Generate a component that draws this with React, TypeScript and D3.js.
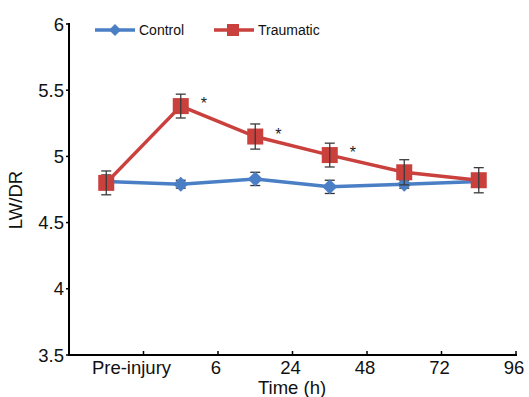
import React from "react";
import * as d3 from "d3";

const xTickLabels = ["Pre-injury", "6", "24", "48", "72", "96"];
const yTicks = [3.5, 4, 4.5, 5, 5.5, 6];
const controlMean = [4.81, 4.79, 4.83, 4.77, 4.79, 4.81];
const controlErr = [0.05, 0.03, 0.05, 0.05, 0.03, 0.04];
const traumaMean = [4.8, 5.38, 5.15, 5.01, 4.88, 4.82];
const traumaErr = [0.09, 0.09, 0.095, 0.09, 0.095, 0.095];
const significant = [false, true, true, true, false, false];

const W = 529, H = 397;
const left = 69, right = 516, top = 24, bottom = 355;
const BLUE = "#4a7fc6";
const RED = "#c9403d";
const FONT = "Liberation Sans, Arial, sans-serif";

export default function App() {
  const x = d3.scaleLinear().domain([0, 6]).range([left, right]);
  const y = d3.scaleLinear().domain([3.5, 6]).range([bottom, top]);
  const pts = controlMean.map((_, i) => i + 0.5);
  const line = d3.line<number>().x((_, i) => x(pts[i])).y((d) => y(d));

  const errBars = (means: number[], errs: number[], key: string, color: string) =>
    means.map((m, i) => {
      const cx = x(pts[i]);
      return (
        <g key={key + i} stroke={color} strokeWidth={1.3}>
          <line x1={cx} x2={cx} y1={y(m + errs[i])} y2={y(m - errs[i])} />
          <line x1={cx - 5} x2={cx + 5} y1={y(m + errs[i])} y2={y(m + errs[i])} />
          <line x1={cx - 5} x2={cx + 5} y1={y(m - errs[i])} y2={y(m - errs[i])} />
        </g>
      );
    });

  const diamond = (cx: number, cy: number, r: number) =>
    `M${cx},${cy - r}L${cx + r},${cy}L${cx},${cy + r}L${cx - r},${cy}Z`;

  return (
    <svg width={W} height={H} style={{ position: "absolute", left: 0, top: 0, background: "#fff" }} fontFamily={FONT}>
      <rect width={W} height={H} fill="#fff" />
      {/* axes */}
      <line x1={left} x2={left} y1={top - 1} y2={bottom + 1} stroke="#000" strokeWidth={2} />
      <line x1={left - 1} x2={right + 1} y1={bottom} y2={bottom} stroke="#000" strokeWidth={2} />
      {yTicks.map((t) => (
        <g key={"yt" + t}>
          <line x1={left - 3} x2={left} y1={y(t)} y2={y(t)} stroke="#000" strokeWidth={1.5} />
          <text x={left - 5} y={y(t)} dy="0.36em" textAnchor="end" fontSize={18.5} fill="#111">
            {String(t)}
          </text>
        </g>
      ))}
      {xTickLabels.map((lab, i) => (
        <g key={"xt" + i}>
          <line x1={x(i + 1)} x2={x(i + 1)} y1={bottom} y2={bottom - 4} stroke="#000" strokeWidth={1.5} />
          <text x={x(i + 1)} dx={i === 0 ? -12 : -2} y={bottom + 19} textAnchor="middle" fontSize={18.5} fill="#111">
            {lab}
          </text>
        </g>
      ))}
      <text x={292} y={394} textAnchor="middle" fontSize={18.5} fill="#111">Time (h)</text>
      <text transform={`translate(22,200) rotate(-90)`} textAnchor="middle" fontSize={18.5} fill="#111">LW/DR</text>

      {/* control */}
      {errBars(controlMean, controlErr, "ce", "#333")}
      <path d={line(controlMean) || ""} fill="none" stroke={BLUE} strokeWidth={3.5} />
      {controlMean.map((m, i) => (
        <path key={"cd" + i} d={diamond(x(pts[i]), y(m), 7.5)} fill={BLUE} />
      ))}

      {/* traumatic */}
      <path d={line(traumaMean) || ""} fill="none" stroke={RED} strokeWidth={3.5} />
      {traumaMean.map((m, i) => (
        <rect key={"ts" + i} x={x(pts[i]) - 8} y={y(m) - 8} width={16} height={16} fill={RED} />
      ))}
      {errBars(traumaMean, traumaErr, "te", "#3a3a3a")}
      {traumaMean.map((m, i) =>
        significant[i] ? (
          <text key={"as" + i} x={x(pts[i]) + 23} y={y(m) + 3} textAnchor="middle" fontSize={16} fill="#222">*</text>
        ) : null
      )}

      {/* legend */}
      <line x1={95} x2={135} y1={30} y2={30} stroke={BLUE} strokeWidth={3.5} />
      <path d={diamond(115, 30, 6)} fill={BLUE} />
      <text x={139} y={35} fontSize={14} fill="#111">Control</text>
      <line x1={214} x2={254} y1={30} y2={30} stroke={RED} strokeWidth={3.5} />
      <rect x={227} y={24} width={12} height={12} fill={RED} />
      <text x={258} y={35} fontSize={14} fill="#111">Traumatic</text>
    </svg>
  );
}
